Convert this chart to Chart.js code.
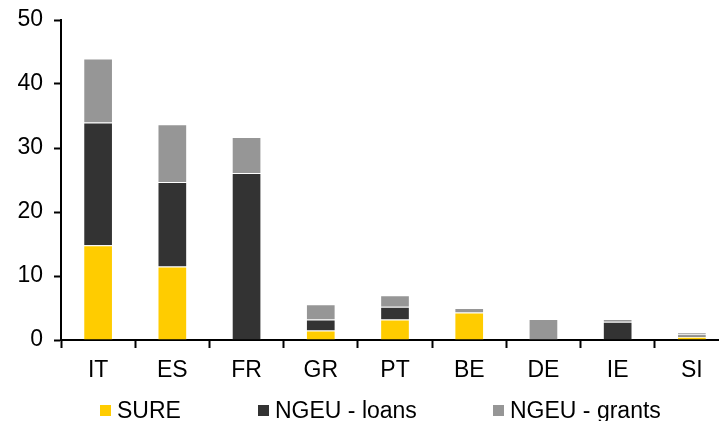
<!DOCTYPE html>
<html>
<head>
<meta charset="utf-8">
<script src="https://cdn.jsdelivr.net/npm/chart.js@4/dist/chart.umd.min.js"></script>
<style>
  html, body { margin: 0; padding: 0; background: #fff; }
  #wrap { position: relative; width: 719px; height: 421px; overflow: hidden; }
  #box { position: absolute; left: 0; top: 0; width: 729px; height: 421px; }
  .leg { position: absolute; top: 398px; font: 23px "Liberation Sans", Arial, sans-serif; line-height: 24px; color: #000; white-space: nowrap; }
  .leg i { position: absolute; top: 7px; width: 11px; height: 11px; }
</style>
</head>
<body>
<div id="wrap">
  <div id="box"><canvas id="chart"></canvas></div>
  <div id="legend"></div>
</div>
<script>
// Countries on the x axis
const countries = ['IT', 'ES', 'FR', 'GR', 'PT', 'BE', 'DE', 'IE', 'SI'];

// EUR bn
const sure = [14.8, 11.5, 0, 1.5, 3.2, 4.3, 0, 0, 0.5];
const ngeuLoans = [19.2, 13.2, 26.1, 1.7, 2.0, 0, 0, 2.85, 0.35];
const ngeuGrants = [10.0, 9.0, 5.6, 2.4, 1.8, 0.7, 3.3, 0.45, 0.35];

const seriesNames = ['SURE', 'NGEU - loans', 'NGEU - grants'];
const seriesColors = ['#FFCC00', '#333333', '#969696'];
const yTicks = [0, 10, 20, 30, 40, 50];

const font = { family: '"Liberation Sans", Arial, sans-serif', size: 23 };

const ctx = document.getElementById('chart').getContext('2d');

const chart = new Chart(ctx, {
  type: 'bar',
  data: {
    labels: countries,
    datasets: [sure, ngeuLoans, ngeuGrants].map((d, i) => ({
      label: seriesNames[i],
      data: d,
      backgroundColor: seriesColors[i],
      borderColor: 'rgba(255,255,255,0.25)',
      borderWidth: 1,
      barPercentage: 0.4,
      categoryPercentage: 1,
    })),
  },
  options: {
    responsive: true,
    maintainAspectRatio: false,
    animation: false,
    layout: { padding: { top: 20, right: 0, bottom: 31, left: 0 } },
    plugins: {
      legend: { display: false },
      tooltip: { enabled: false },
    },
    scales: {
      x: {
        stacked: true,
        afterFit: (s) => { s.height = 50; s.paddingLeft = 0; s.paddingRight = 0; },
        grid: { drawOnChartArea: false, tickLength: 8, tickColor: '#000', tickWidth: 2, offset: true },
        border: { display: true, color: '#000', width: 2 },
        ticks: { color: '#000', font: font, padding: 9 },
      },
      y: {
        stacked: true,
        min: 0,
        max: 50,
        afterFit: (s) => { s.width = 61; s.paddingTop = 0; s.paddingBottom = 0; },
        afterBuildTicks: (s) => { s.ticks = yTicks.map(v => ({ value: v })); },
        grid: { drawOnChartArea: false, tickLength: 7, tickColor: '#000', tickWidth: 2 },
        border: { display: true, color: '#000', width: 2 },
        ticks: { color: '#000', font: font, padding: 11 },
      },
    },
  },
});

// Legend as plain text under the chart, spaced like the original
const legendX = [100, 258, 493];
const legend = document.getElementById('legend');
seriesNames.forEach((name, i) => {
  const el = document.createElement('div');
  el.className = 'leg';
  el.style.left = legendX[i] + 'px';
  el.style.paddingLeft = '17px';
  el.innerHTML = '<i style="left:0;background:' + seriesColors[i] + '"></i>' + name;
  legend.appendChild(el);
});
</script>
</body>
</html>
